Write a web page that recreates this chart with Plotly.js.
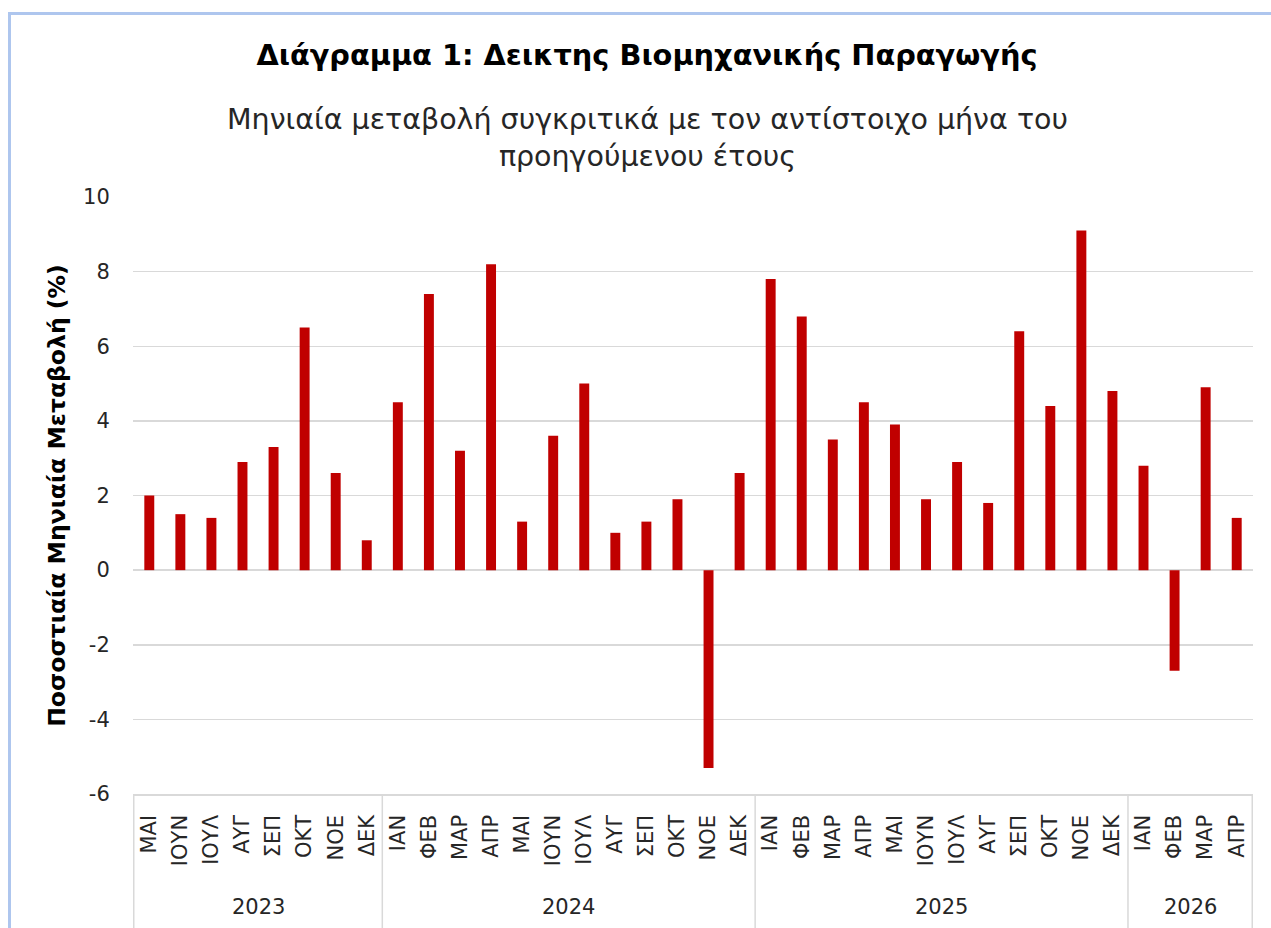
<!DOCTYPE html>
<html>
<head>
<meta charset="utf-8">
<script src="https://cdn.plot.ly/plotly-3.0.1.min.js"></script>
<style>
  html, body { margin: 0; padding: 0; background: #fff; }
  #wrap { position: relative; width: 1271px; height: 928px; }
  #chart { width: 1271px; height: 928px; }
  #frame { position: absolute; left: 8px; top: 12px; width: 1300px; height: 1000px;
           border-left: 3px solid #aec6ee; border-top: 3px solid #aec6ee; pointer-events: none; }
</style>
</head>
<body>
<div id="wrap">
  <div id="chart"></div>
  <div id="frame"></div>
</div>
<script>
const years = ["2023","2023","2023","2023","2023","2023","2023","2023",
  "2024","2024","2024","2024","2024","2024","2024","2024","2024","2024","2024","2024",
  "2025","2025","2025","2025","2025","2025","2025","2025","2025","2025","2025","2025",
  "2026","2026","2026","2026"];
const months = ["ΜΑΙ","ΙΟΥΝ","ΙΟΥΛ","ΑΥΓ","ΣΕΠ","ΟΚΤ","ΝΟΕ","ΔΕΚ",
  "ΙΑΝ","ΦΕΒ","ΜΑΡ","ΑΠΡ","ΜΑΙ","ΙΟΥΝ","ΙΟΥΛ","ΑΥΓ","ΣΕΠ","ΟΚΤ","ΝΟΕ","ΔΕΚ",
  "ΙΑΝ","ΦΕΒ","ΜΑΡ","ΑΠΡ","ΜΑΙ","ΙΟΥΝ","ΙΟΥΛ","ΑΥΓ","ΣΕΠ","ΟΚΤ","ΝΟΕ","ΔΕΚ",
  "ΙΑΝ","ΦΕΒ","ΜΑΡ","ΑΠΡ"];
const changePct = [2.0, 1.5, 1.4, 2.9, 3.3, 6.5, 2.6, 0.8,
  4.5, 7.4, 3.2, 8.2, 1.3, 3.6, 5.0, 1.0, 1.3, 1.9, -5.3, 2.6,
  7.8, 6.8, 3.5, 4.5, 3.9, 1.9, 2.9, 1.8, 6.4, 4.4, 9.1, 4.8,
  2.8, -2.7, 4.9, 1.4];
const yTicks = [-6, -4, -2, 0, 2, 4, 6, 8, 10];

const FONT = "DejaVu Sans, Verdana, sans-serif";
const GRID = "#d9d9d9";

// unique category keys (year + month), shown with month labels only
const cats = years.map((y, i) => y + " " + months[i]);

// year groups derived from the data arrays
const groups = [];
years.forEach((y, i) => {
  const g = groups[groups.length - 1];
  if (g && g.year === y) { g.end = i; }
  else groups.push({ year: y, start: i, end: i });
});

const yPaper = px => (794 - px) / 597;   // pixel row -> paper fraction of the plot area

const annotations = [{
  text: "Μηνιαία μεταβολή συγκριτικά με τον αντίστοιχο μήνα του<br>προηγούμενου έτους",
  xref: "paper", yref: "paper",
  x: (647 - 133) / 1120, y: yPaper(138),
  xanchor: "center", yanchor: "middle",
  showarrow: false,
  font: { family: FONT, size: 28.5, color: "#262626" }
}];
groups.forEach(g => {
  annotations.push({
    text: g.year,
    xref: "x", yref: "paper",
    x: (g.start + g.end) / 2, y: yPaper(907),
    xanchor: "center", yanchor: "middle",
    showarrow: false,
    font: { family: FONT, size: 21, color: "#262626" }
  });
});

const shapes = [];
const bounds = [groups[0].start - 0.5].concat(groups.map(g => g.end + 0.5));
bounds.forEach(b => {
  shapes.push({
    type: "line", xref: "x", yref: "paper",
    x0: b, x1: b, y0: 0, y1: yPaper(930),
    line: { color: GRID, width: 1.5 }
  });
});

const trace = {
  type: "bar",
  x: cats,
  y: changePct,
  marker: { color: "#c00000", line: { width: 0 } },
  hoverinfo: "y"
};

const layout = {
  width: 1271, height: 928,
  margin: { l: 133, r: 18, t: 197, b: 134 },
  paper_bgcolor: "#ffffff",
  plot_bgcolor: "#ffffff",
  bargap: 0.68,
  showlegend: false,
  font: { family: FONT, color: "#000000", size: 18 },
  title: {
    text: "<b>Διάγραμμα 1: Δεικτης Βιομηχανικής Παραγωγής</b>",
    font: { family: FONT, size: 28.8, color: "#000000" },
    x: 0.509, xanchor: "center",
    y: 1 - 55 / 928, yanchor: "middle", yref: "container"
  },
  annotations: annotations,
  shapes: shapes,
  xaxis: {
    type: "category",
    categoryorder: "array",
    categoryarray: cats,
    tickvals: cats,
    ticktext: months,
    tickangle: -90,
    tickfont: { family: FONT, size: 21, color: "#262626" },
    showline: true, linecolor: GRID, linewidth: 1.5,
    showgrid: false,
    ticks: "outside", ticklen: 11, tickcolor: "rgba(0,0,0,0)",
    automargin: false,
    fixedrange: true
  },
  yaxis: {
    range: [-6, 10],
    tickvals: yTicks,
    ticktext: yTicks.map(String),
    tickfont: { family: FONT, size: 21, color: "#262626" },
    showgrid: true, gridcolor: GRID, gridwidth: 1.5,
    zeroline: true, zerolinecolor: GRID, zerolinewidth: 1.5,
    showline: false,
    ticks: "outside", ticklen: 18, tickcolor: "rgba(0,0,0,0)",
    title: {
      text: "<b>Ποσοστιαία Μηνιαία Μεταβολή (%)</b>",
      font: { family: FONT, size: 23.5, color: "#000000" },
      standoff: 10
    },
    fixedrange: true
  }
};

Plotly.newPlot("chart", [trace], layout, { displayModeBar: false, staticPlot: true });
</script>
</body>
</html>
